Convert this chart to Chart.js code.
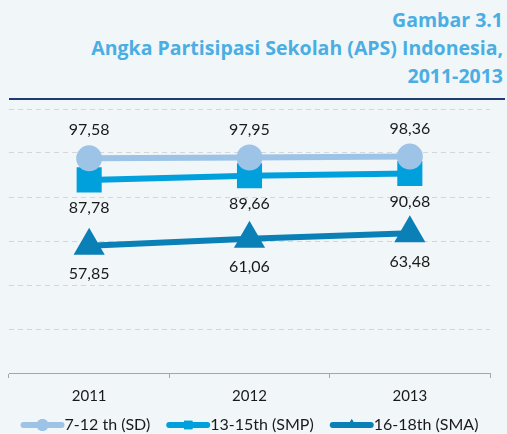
<!DOCTYPE html>
<html>
<head>
<meta charset="utf-8">
<script src="https://cdn.jsdelivr.net/npm/chart.js@4/dist/chart.umd.min.js"></script>
<style>
  html, body { margin:0; padding:0; background:#f1f6f9; }
  body { width:507px; height:434px; position:relative; overflow:hidden; }
  .title { position:absolute; top:6px; right:4px; text-align:right; font-family:"Open Sans", sans-serif; font-weight:bold; font-size:19.5px; line-height:28px; color:#4aaee3; white-space:nowrap; }
  .rule { position:absolute; left:9px; top:98px; width:496px; height:2px; background:#1f3b73; }
  .wrap { position:absolute; left:0; top:90px; width:507px; height:344px; }
</style>
</head>
<body>
<div class="title">Gambar 3.1<br>Angka Partisipasi Sekolah (APS) Indonesia,<br>2011-2013</div>
<div class="rule"></div>
<div class="wrap"><canvas id="chart"></canvas></div>
<script>
const years = ['2011', '2012', '2013']
const sd = [97.58, 97.95, 98.36]
const smp = [87.78, 89.66, 90.68]
const sma = [57.85, 61.06, 63.48]
const seriesNames = ['7-12 th (SD)', '13-15th (SMP)', '16-18th (SMA)']
const yMin = 0, yMax = 120, yStep = 20

const colors = ['#9dc3e6', '#00a0dc', '#0a80b6']
const fmt = v => v.toFixed(2).replace('.', ',')

// value labels above / below each point
const valueLabels = {
  id: 'valueLabels',
  afterDatasetsDraw(chart) {
    const ctx = chart.ctx
    ctx.save()
    ctx.font = '16px Lato'
    ctx.fillStyle = '#1a1a1a'
    ctx.textAlign = 'center'
    ctx.textBaseline = 'middle'
    chart.data.datasets.forEach((ds, i) => {
      chart.getDatasetMeta(i).data.forEach((pt, j) => {
        const dy = ds.labelPos === 'top' ? -28 : 28
        ctx.fillText(fmt(ds.data[j]), pt.x, pt.y + dy)
      })
    })
    ctx.restore()
  }
}

// legend: line with marker, then text
const lineLegend = {
  id: 'lineLegend',
  afterDraw(chart) {
    const ctx = chart.ctx
    const a = chart.chartArea
    ctx.save()
    ctx.font = '16px Lato'
    const lineW = 44, gap = 16
    const widths = chart.data.datasets.map(ds => lineW + ctx.measureText(ds.label).width)
    const total = widths.reduce((s, w) => s + w, 0) + gap * (widths.length - 1)
    let x = (a.left + a.right) / 2 - total / 2
    const y = chart.height - 9
    chart.data.datasets.forEach((ds, i) => {
      ctx.strokeStyle = ds.borderColor
      ctx.lineWidth = 6
      ctx.lineCap = 'round'
      ctx.beginPath()
      ctx.moveTo(x + 3, y)
      ctx.lineTo(x + lineW - 3, y)
      ctx.stroke()
      ctx.fillStyle = ds.borderColor
      Chart.helpers.drawPoint(ctx, { pointStyle: ds.pointStyle, radius: 6, borderWidth: 0 }, x + lineW / 2, y)
      ctx.fill()
      ctx.fillStyle = '#1a1a1a'
      ctx.textBaseline = 'middle'
      ctx.textAlign = 'left'
      ctx.fillText(ds.label, x + lineW, y)
      x += widths[i] + gap
    })
    ctx.restore()
  }
}

const mk = (i, data, style, r, pos) => ({
  label: seriesNames[i],
  data: data,
  borderColor: colors[i],
  backgroundColor: colors[i],
  pointBackgroundColor: colors[i],
  pointBorderColor: colors[i],
  borderWidth: 6,
  pointStyle: style,
  pointRadius: r,
  pointHoverRadius: r,
  tension: 0,
  labelPos: pos
})

new Chart(document.getElementById('chart'), {
  type: 'line',
  data: {
    labels: years,
    datasets: [
      mk(0, sd, 'circle', 10, 'top'),
      mk(1, smp, 'rect', 13.5, 'bottom'),
      mk(2, sma, 'triangle', 12, 'bottom')
    ]
  },
  options: {
    responsive: true,
    maintainAspectRatio: false,
    animation: false,
    layout: { autoPadding: false, padding: { left: 9, right: 17, top: 19, bottom: 20 } },
    plugins: { legend: { display: false }, tooltip: { enabled: false } },
    scales: {
      x: {
        offset: true,
        grid: { offset: true, drawOnChartArea: false, tickLength: 5, color: '#a6a6a6' },
        border: { color: '#a6a6a6', width: 1 },
        ticks: { color: '#1a1a1a', font: { family: 'Lato', size: 15 }, padding: 9 }
      },
      y: {
        min: yMin, max: yMax,
        afterFit: s => { s.width = 0 },
        ticks: { display: false, stepSize: yStep },
        border: { display: false, dash: [5, 4] },
        grid: { drawTicks: false, color: c => c.tick.value === 0 ? 'rgba(0,0,0,0)' : '#d3d7db', lineWidth: 1 }
      }
    }
  },
  plugins: [valueLabels, lineLegend]
})
</script>
</body>
</html>
